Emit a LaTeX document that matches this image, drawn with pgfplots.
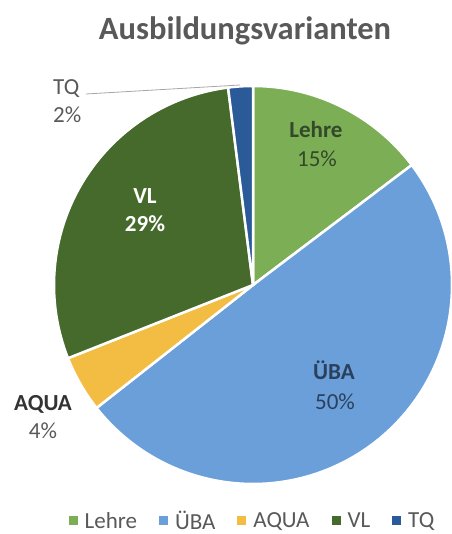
\documentclass[border=0pt]{standalone}
\usepackage{fontspec}
\setmainfont{Carlito}
\usepackage{pgfplots}
\usepackage{pgfplotstable}
\pgfplotsset{compat=1.18}
\definecolor{cLehre}{HTML}{7BAE55}
\definecolor{cUBA}{HTML}{6A9FDA}
\definecolor{cAQUA}{HTML}{F2BD42}
\definecolor{cVL}{HTML}{466A2C}
\definecolor{cTQ}{HTML}{2A5A98}
\definecolor{ttl}{HTML}{595959}
\definecolor{lblLehre}{HTML}{34482A}
\definecolor{lblUBA}{HTML}{2B405C}

\pgfplotstableread{
label value
Lehre 14.7
UBA 49.7
AQUA 4.6
VL 29.0
TQ 2.0
}\piedata

\newcommand{\lbl}{\fontsize{23}{28}\selectfont}
\begin{document}
\begin{tikzpicture}
\pgfplotstablegetelem{0}{value}\of\piedata \let\vA\pgfplotsretval
\pgfplotstablegetelem{1}{value}\of\piedata \let\vB\pgfplotsretval
\pgfplotstablegetelem{2}{value}\of\piedata \let\vC\pgfplotsretval
\pgfplotstablegetelem{3}{value}\of\piedata \let\vD\pgfplotsretval
\pgfplotstablegetelem{4}{value}\of\piedata \let\vE\pgfplotsretval
\pgfmathsetmacro{\aO}{90}
\pgfmathsetmacro{\aA}{90-3.6*\vA}
\pgfmathsetmacro{\aB}{\aA-3.6*\vB}
\pgfmathsetmacro{\aC}{\aB-3.6*\vC}
\pgfmathsetmacro{\aD}{\aC-3.6*\vD}
\pgfmathsetmacro{\aE}{\aD-3.6*\vE}
\begin{axis}[
  width=451pt, height=534pt, scale only axis,
  xmin=0, xmax=451, ymin=0, ymax=534,
  hide axis, clip=false,
  legend columns=5,
  legend style={at={(axis cs:252.5,13)}, anchor=center, draw=none, fill=none,
    inner sep=0pt, font=\fontsize{23}{28}\selectfont, text=ttl,
    /tikz/every even column/.append style={column sep=20pt},
    /tikz/every odd column/.append style={column sep=5pt},
    nodes={inner sep=2pt}},
  legend image code/.code={\fill[#1] (0pt,-4.5pt) rectangle (9pt,4.5pt);},
]
\addplot[fill=cLehre, draw=white, line width=2.5pt, domain=\aA:\aO, samples=60, variable=\t, forget plot]
  ({253+199*cos(\t)}, {249+199*sin(\t)}) -- (axis cs:253,249) -- cycle;
\addplot[fill=cUBA, draw=white, line width=2.5pt, domain=\aB:\aA, samples=120, variable=\t, forget plot]
  ({253+199*cos(\t)}, {249+199*sin(\t)}) -- (axis cs:253,249) -- cycle;
\addplot[fill=cAQUA, draw=white, line width=2.5pt, domain=\aC:\aB, samples=20, variable=\t, forget plot]
  ({253+199*cos(\t)}, {249+199*sin(\t)}) -- (axis cs:253,249) -- cycle;
\addplot[fill=cVL, draw=white, line width=2.5pt, domain=\aD:\aC, samples=80, variable=\t, forget plot]
  ({253+199*cos(\t)}, {249+199*sin(\t)}) -- (axis cs:253,249) -- cycle;
\addplot[fill=cTQ, draw=white, line width=2.5pt, domain=\aE:\aD, samples=10, variable=\t, forget plot]
  ({253+199*cos(\t)}, {249+199*sin(\t)}) -- (axis cs:253,249) -- cycle;

\addlegendimage{fill=cLehre, draw=none}
\addlegendentry{Lehre}
\addlegendimage{fill=cUBA, draw=none}
\addlegendentry{ÜBA}
\addlegendimage{fill=cAQUA, draw=none}
\addlegendentry{AQUA}
\addlegendimage{fill=cVL, draw=none}
\addlegendentry{VL}
\addlegendimage{fill=cTQ, draw=none}
\addlegendentry{TQ}

% title
\node[anchor=base, text=ttl, font=\bfseries\fontsize{32.5}{39}\selectfont] at (axis cs:245,494) {Ausbildungsvarianten};
% labels
\node[anchor=base, text=lblLehre, font=\lbl\bfseries] at (axis cs:316,396) {Lehre};
\node[anchor=base, text=lblLehre, font=\lbl] at (axis cs:317,367) {15\%};
\node[anchor=base, text=lblUBA, font=\lbl\bfseries] at (axis cs:334,154) {ÜBA};
\node[anchor=base, text=lblUBA, font=\lbl] at (axis cs:335,124) {50\%};
\node[anchor=base, text=white, font=\lbl\bfseries] at (axis cs:145,330) {VL};
\node[anchor=base, text=white, font=\lbl\bfseries] at (axis cs:145,302) {29\%};
\node[anchor=base, text=black!80, font=\lbl\bfseries] at (axis cs:43,123) {AQUA};
\node[anchor=base, text=ttl, font=\lbl] at (axis cs:43,95) {4\%};
\node[anchor=base west, inner sep=0pt, text=ttl, font=\lbl] at (axis cs:53,439) {TQ};
\node[anchor=base west, inner sep=0pt, text=ttl, font=\lbl] at (axis cs:53,411) {2\%};
\draw[gray!70, line width=0.8pt] (axis cs:86,440) -- (axis cs:240,449);
\coordinate (BL) at (axis cs:0,0);
\coordinate (TR) at (axis cs:451,534);
\end{axis}
\pgfresetboundingbox
\useasboundingbox (BL) rectangle (TR);
\end{tikzpicture}
\end{document}
